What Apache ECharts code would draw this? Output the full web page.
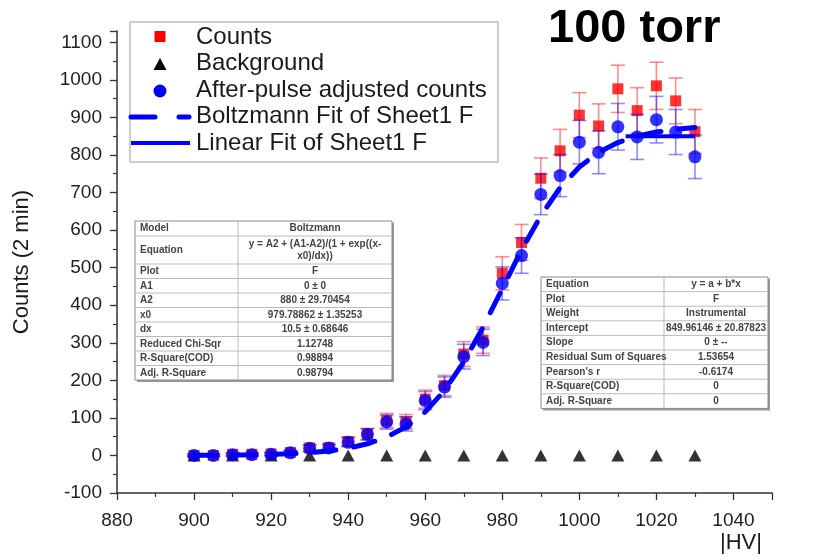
<!DOCTYPE html>
<html><head><meta charset="utf-8">
<script src="https://cdn.jsdelivr.net/npm/echarts@6/dist/echarts.min.js"></script>
<style>html,body{margin:0;padding:0;background:#fff}#c{width:827px;height:557px}</style>
</head><body><div id="c"></div>
<script>
// ---- data ----
const hv = [900,905,910,915,920,925,930,935,940,945,950,955,960,965,970,975,980,985,990,995,1000,1005,1010,1015,1020,1025,1030];
const counts = [0,0,3,3,4,8,20,21,37,57,93,90,150,186,270,307,485,567,738,811,906,877,976,918,984,944,862];
const countsErr = [3,3,4,4,4,6,9,9,12,15,19,19,24,27,33,35,44,48,54,57,60,59,63,61,63,61,59];
const adjusted = [0,0,2,2,3,7,19,20,35,56,89,84,146,182,263,301,458,532,695,745,834,807,875,848,894,861,795];
const adjustedErr = [3,3,4,4,4,6,9,9,12,15,19,19,24,27,33,35,44,47,54,56,58,57,62,60,62,60,58];
const bgHV = [900,910,920,930,940,950,960,970,980,990,1000,1010,1020,1030];
const background = [0,0,0,0,0,0,0,0,0,0,0,0,0,0];
const fitHV = [900,905,910,915,920,925,930,935,940,945,950,955,960,965,970,975,980,985,990,995,1000,1005,1010,1015,1020,1025,1030];
const boltzmannFit = [0.4,0.7,1.1,1.8,3.0,4.7,7.6,12,19,31,49,76,116,173,249,341,444,547,638,713,768,807,833,850,861,868,873];
const linearHV = [1012,1030];
const linearFit = [849.96,849.96];
const xTicks = [880,900,920,940,960,980,1000,1020,1040];
const yTicks = [-100,0,100,200,300,400,500,600,700,800,900,1000,1100];

const boltzTable = [
  ['Model','Boltzmann'],
  ['Equation','y = A2 + (A1-A2)/(1 + exp((x-\nx0)/dx))'],
  ['Plot','F'],
  ['A1','0 \u00b1 0'],
  ['A2','880 \u00b1 29.70454'],
  ['x0','979.78862 \u00b1 1.35253'],
  ['dx','10.5 \u00b1 0.68646'],
  ['Reduced Chi-Sqr','1.12748'],
  ['R-Square(COD)','0.98894'],
  ['Adj. R-Square','0.98794']
];
const linTable = [
  ['Equation','y = a + b*x'],
  ['Plot','F'],
  ['Weight','Instrumental'],
  ['Intercept','849.96146 \u00b1 20.87823'],
  ['Slope','0 \u00b1 --'],
  ['Residual Sum of Squares','1.53654'],
  ["Pearson's r",'-0.6174'],
  ['R-Square(COD)','0'],
  ['Adj. R-Square','0']
];

const FONT = "'Liberation Sans', Arial, Helvetica, sans-serif";
const chart = echarts.init(document.getElementById('c'), null, {renderer:'canvas'});

function errSeries(name, xs, ys, errs, color, z) {
  return {
    type:'custom', name:name, z:z, silent:true,
    data: xs.map((x,i)=>[x, ys[i]-errs[i], ys[i]+errs[i]]),
    encode:{x:0, y:[1,2]},
    renderItem:function(params, api){
      const lo = api.coord([api.value(0), api.value(1)]);
      const hi = api.coord([api.value(0), api.value(2)]);
      const w = 7, st = {stroke:color, lineWidth:1.6};
      return {type:'group', children:[
        {type:'line', shape:{x1:lo[0],y1:lo[1],x2:hi[0],y2:hi[1]}, style:st},
        {type:'line', shape:{x1:lo[0]-w,y1:lo[1],x2:lo[0]+w,y2:lo[1]}, style:st},
        {type:'line', shape:{x1:hi[0]-w,y1:hi[1],x2:hi[0]+w,y2:hi[1]}, style:st}
      ]};
    }
  };
}

function makeTable(left, top, right, colX, rows, heights) {
  const els = [];
  let y = top;
  const total = heights.reduce((a,b)=>a+b,0);
  els.push({type:'rect', shape:{x:left+2,y:top+2,width:right-left,height:total}, style:{fill:'#999'}, z:100});
  els.push({type:'rect', shape:{x:left,y:top,width:right-left,height:total}, style:{fill:'#fff', stroke:'#888', lineWidth:1}, z:101});
  els.push({type:'line', shape:{x1:colX,y1:top,x2:colX,y2:top+total}, style:{stroke:'#bbb', lineWidth:1}, z:102});
  rows.forEach((r,i)=>{
    const h = heights[i];
    if (i>0) els.push({type:'line', shape:{x1:left,y1:y,x2:right,y2:y}, style:{stroke:'#bbb', lineWidth:1}, z:102});
    els.push({type:'text', z:103, style:{text:r[0], x:left+5, y:y+h/2, font:"bold 10px "+FONT, fill:'#444', textAlign:'left', textVerticalAlign:'middle'}});
    els.push({type:'text', z:103, style:{text:r[1], x:(colX+right)/2, y:y+h/2, font:"bold 10px "+FONT, fill:'#444', textAlign:'center', textVerticalAlign:'middle', lineHeight:12}});
    y += h;
  });
  return els;
}

const leftHeights = [15,28,14.5,14.5,14.5,14.5,14.5,14.5,14.5,14.5];
const rightHeights = [14.6,14.6,14.6,14.6,14.6,14.6,14.6,14.6,14.6];

const legendEls = [
  {type:'rect', z:90, shape:{x:130,y:22,width:368,height:140}, style:{fill:'#fff', stroke:'#999', lineWidth:1}},
  {type:'rect', z:91, shape:{x:154.5,y:31,width:11,height:11}, style:{fill:'#ff0000'}},
  {type:'polygon', z:91, shape:{points:[[153.5,70],[166.5,70],[160,58]]}, style:{fill:'#000'}},
  {type:'circle', z:91, shape:{cx:160,cy:91,r:6.5}, style:{fill:'#0000ff'}},
  {type:'line', z:91, shape:{x1:131,y1:117,x2:155,y2:117}, style:{stroke:'#0000ff', lineWidth:5, lineCap:'round'}},
  {type:'line', z:91, shape:{x1:179,y1:117,x2:189,y2:117}, style:{stroke:'#0000ff', lineWidth:5, lineCap:'round'}},
  {type:'line', z:91, shape:{x1:131,y1:143,x2:190,y2:143}, style:{stroke:'#0000ff', lineWidth:4}}
];
['Counts','Background','After-pulse adjusted counts','Boltzmann Fit of Sheet1 F','Linear Fit of Sheet1 F'].forEach((t,i)=>{
  legendEls.push({type:'text', z:92, style:{text:t, x:196, y:37+i*26.5, font:"24px "+FONT, fill:'#1a1a1a', textAlign:'left', textVerticalAlign:'middle'}});
});

const axisCommon = {
  axisLine:{show:true, onZero:false, lineStyle:{color:'#333', width:1.5}},
  axisTick:{show:true, length:7, lineStyle:{color:'#333', width:1.3}},
  minorTick:{show:true, splitNumber:2, length:4, lineStyle:{color:'#333', width:1.2}},
  splitLine:{show:false},
  minorSplitLine:{show:false}
};

chart.setOption({
  animation:false,
  backgroundColor:'#fff',
  grid:{left:117, right:55, top:31, bottom:64, containLabel:false},
  xAxis:Object.assign({
    type:'value', min:880, max:1050, interval:20,
    name:'|HV|', nameLocation:'end', nameGap:-10,
    nameTextStyle:{fontFamily:FONT, fontSize:22, color:'#1a1a1a', align:'right', verticalAlign:'top', padding:[39,0,0,0]},
    axisLabel:{fontFamily:FONT, fontSize:19, color:'#222', margin:18,
      customValues:xTicks, formatter:v=>String(v)}
  }, axisCommon),
  yAxis:Object.assign({
    type:'value', min:-100, max:1130, interval:100,
    name:'Counts (2 min)', nameLocation:'middle', nameGap:84, nameRotate:90,
    nameTextStyle:{fontFamily:FONT, fontSize:22, color:'#1a1a1a'},
    axisLabel:{fontFamily:FONT, fontSize:19, color:'#222', margin:15,
      customValues:yTicks, formatter:v=>String(v)}
  }, axisCommon),
  series:[
    errSeries('Counts err', hv, counts, countsErr, 'rgba(255,0,0,0.45)', 2),
    {type:'scatter', name:'Counts', z:3, symbol:'rect', symbolSize:11,
      itemStyle:{color:'#ff0000'}, data:hv.map((x,i)=>[x,counts[i]])},
    {type:'scatter', name:'Background', z:4, symbol:'triangle', symbolSize:[13,12],
      itemStyle:{color:'#000'}, data:bgHV.map((x,i)=>[x,background[i]])},
    errSeries('Adjusted err', hv, adjusted, adjustedErr, 'rgba(0,0,255,0.45)', 5),
    {type:'scatter', name:'After-pulse adjusted counts', z:6, symbol:'circle', symbolSize:13,
      itemStyle:{color:'#0000ff'}, data:hv.map((x,i)=>[x,adjusted[i]])},
    {type:'line', name:'Boltzmann Fit of Sheet1 F', z:7, showSymbol:false, symbol:'none',
      lineStyle:{color:'#0000ff', width:5, type:[22,18], cap:'round'},
      data:fitHV.map((x,i)=>[x,boltzmannFit[i]])},
    {type:'line', name:'Linear Fit of Sheet1 F', z:7, showSymbol:false, symbol:'none',
      lineStyle:{color:'#0000ff', width:4},
      data:linearHV.map((x,i)=>[x,linearFit[i]])}
  ],
  graphic:[].concat(
    legendEls,
    makeTable(135, 221, 392, 238, boltzTable, leftHeights),
    makeTable(541, 277, 768, 664, linTable, rightHeights),
    [{type:'text', z:110, style:{text:'100 torr', x:548, y:29, font:"bold 47px "+FONT, fill:'#000', textAlign:'left', textVerticalAlign:'middle'}}]
  )
});
</script></body></html>
